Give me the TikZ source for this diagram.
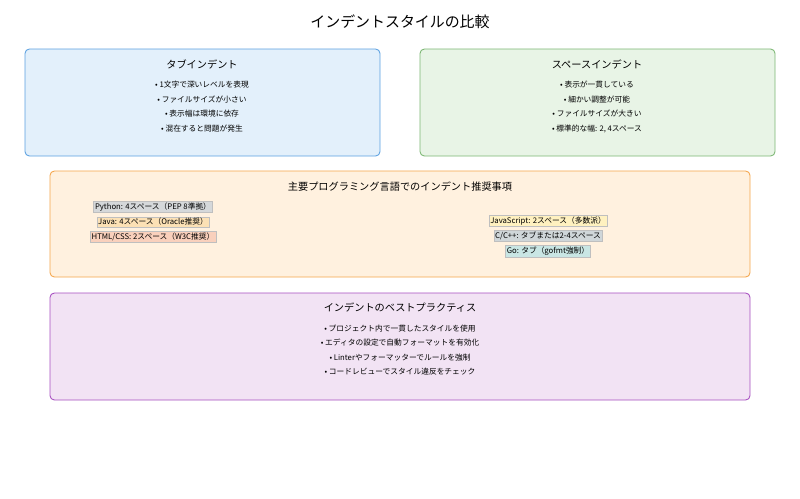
\documentclass[tikz,border=0pt]{standalone}
\usepackage{fontspec}
\setmainfont{Noto Sans CJK JP}
\usetikzlibrary{positioning}
\definecolor{tabfill}{HTML}{E3F0FB}
\definecolor{tabline}{HTML}{5AA0E0}
\definecolor{spcfill}{HTML}{E8F4E6}
\definecolor{spcline}{HTML}{7BB672}
\definecolor{langfill}{HTML}{FFF1DF}
\definecolor{langline}{HTML}{F5A54A}
\definecolor{bestfill}{HTML}{F2E3F4}
\definecolor{bestline}{HTML}{A64DC0}
\definecolor{pyfill}{HTML}{D5D8DA}
\definecolor{javafill}{HTML}{FCE1B5}
\definecolor{htmlfill}{HTML}{F9D0BC}
\definecolor{jsfill}{HTML}{FFF1C0}
\definecolor{cfill}{HTML}{CFD6D9}
\definecolor{gofill}{HTML}{C9E6E4}
\tikzset{
  panel/.style={draw=#1, rounded corners=2.5pt, line width=0.5pt},
  paneltitle/.style={font=\fontsize{5.8pt}{7pt}\selectfont},
  item/.style={font=\fontsize{4.4pt}{5pt}\selectfont},
  tag/.style={fill=#1, draw=black!25, line width=0.2pt, inner sep=0.8pt,
    font=\fontsize{4.4pt}{5pt}\selectfont}
}
\begin{document}
\begin{tikzpicture}[x=0.02cm, y=-0.02cm]
      \useasboundingbox (0,0) rectangle (800,498);
      \node (title) at (400,22) {\fontsize{8.5pt}{10pt}\selectfont インデントスタイルの比較};

      % panels
      \draw[panel=tabline, fill=tabfill] (25,49) rectangle (380,156);
      \draw[panel=spcline, fill=spcfill] (420,49) rectangle (775,156);
      \draw[panel=langline, fill=langfill] (50,171) rectangle (750,277);
      \draw[panel=bestline, fill=bestfill] (50,293) rectangle (750,400);

      \node[paneltitle] (tab) at (202,64) {タブインデント};
      \node[item] (tab1) at (202,85) {• 1文字で深いレベルを表現};
      \node[item] (tab2) at (202,100) {• ファイルサイズが小さい};
      \node[item] (tab3) at (202,114) {• 表示幅は環境に依存};
      \node[item] (tab4) at (202,129) {• 混在すると問題が発生};

      \node[paneltitle] (spc) at (597,64) {スペースインデント};
      \node[item] (spc1) at (597,85) {• 表示が一貫している};
      \node[item] (spc2) at (597,100) {• 細かい調整が可能};
      \node[item] (spc3) at (597,114) {• ファイルサイズが大きい};
      \node[item] (spc4) at (597,129) {• 標準的な幅: 2, 4スペース};

      \node[paneltitle] (lang) at (400,187) {主要プログラミング言語でのインデント推奨事項};
      \node[tag=pyfill] (py) at (153,207) {Python: 4スペース（PEP 8準拠）};
      \node[tag=javafill] (java) at (153,222) {Java: 4スペース（Oracle推奨）};
      \node[tag=htmlfill] (html) at (153,237) {HTML/CSS: 2スペース（W3C推奨）};
      \node[tag=jsfill] (js) at (548,221) {JavaScript: 2スペース（多数派）};
      \node[tag=cfill] (cpp) at (548,236) {C/C++: タブまたは2-4スペース};
      \node[tag=gofill] (go) at (548,251) {Go: タブ（gofmt強制）};

      \node[paneltitle] (best) at (400,308) {インデントのベストプラクティス};
      \node[item] (best1) at (400,329) {• プロジェクト内で一貫したスタイルを使用};
      \node[item] (best2) at (400,343) {• エディタの設定で自動フォーマットを有効化};
      \node[item] (best3) at (400,358) {• Linterやフォーマッターでルールを強制};
      \node[item] (best4) at (400,372) {• コードレビューでスタイル違反をチェック};
\end{tikzpicture}
\end{document}
